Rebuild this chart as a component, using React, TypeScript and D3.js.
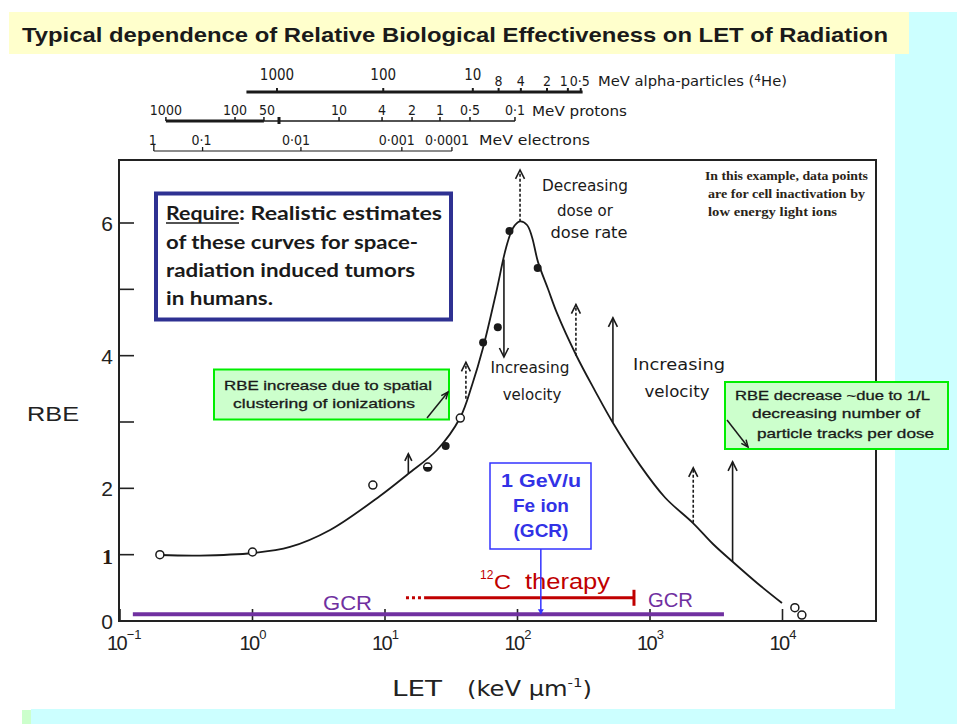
import React from "react";
import * as d3 from "d3";

// ---- data ----
const curveLET = [0.2, 0.4, 1.01, 1.92, 3.85, 9.16, 14.9, 24.7, 36.8, 45.4, 54.9, 68.9, 81.9, 92.5, 104.5, 118, 128.6, 142.9, 170, 198.7, 276.7, 384.8, 526, 841, 1298, 2112, 2988, 4226, 6425, 9910];
const curveRBE = [0.995, 0.987, 1.025, 1.116, 1.372, 1.885, 2.216, 2.578, 3.06, 3.558, 4.116, 4.945, 5.623, 5.925, 6.023, 5.97, 5.79, 5.41, 5.005, 4.64, 4.01, 3.47, 2.985, 2.35, 1.862, 1.477, 1.161, 0.889, 0.573, 0.271];

const openLET = [0.2, 1.0, 8.1, 37, 12400, 14000];
const openRBE = [1.0, 1.04, 2.05, 3.06, 0.2, 0.09];
const filledLET = [28.7, 55, 71, 87, 142];
const filledRBE = [2.64, 4.2, 4.43, 5.88, 5.32];
const halfLET = [21];
const halfRBE = [2.32];

// arrows: LET position, start RBE, tip RBE, dashed
const arrowLET = [104.5, 79, 40.8, 15, 276, 525, 2120, 4200];
const arrowFrom = [6.02, 5.45, 3.35, 2.23, 4.0, 2.99, 1.48, 0.89];
const arrowTo = [6.8, 3.98, 3.9, 2.52, 4.77, 4.57, 2.31, 2.4];
const arrowDashed = [true, false, true, false, true, false, true, false];

const xTickValues = [0.1, 1, 10, 100, 1000, 10000];
const xTickExp = ["\u22121", "0", "1", "2", "3", "4"];
const yTickValues = [1, 2, 3, 4, 5, 6];
const yLabelValues = [0, 2, 4, 6];

// energy scales (label, LET equivalent in keV/um)
const alphaLabels = ["1000", "100", "10", "8", "4", "2", "1", "0\u00b75"];
const alphaLET = [1.53, 9.7, 46, 72, 106, 167, 240, 300];
const alphaBig = [true, true, true, false, false, false, false, false];
const alphaRange = [0.9, 310];
const protonLabels = ["1000", "100", "50", "", "10", "4", "2", "1", "0\u00b75", "0\u00b71"];
const protonLET = [0.222, 0.738, 1.22, 1.585, 4.5, 9.5, 16, 26, 43.8, 95.7];
const protonThickEnd = 1.22;
const electronLabels = ["1", "0\u00b71", "0\u00b701", "0\u00b7001", "0\u00b70001"];
const electronLET = [0.18, 0.42, 2.32, 13.4, 32];

const gcrRange = [0.125, 3615];
const carbonRange = [20, 757];
const carbonDotted = 14.4;
const feLET = 150;

export default function App() {
  const x = d3.scaleLog().domain([0.1, 10000]).range([120, 782.5]);
  const y = d3.scaleLinear().domain([0, 6]).range([621, 223]);
  const L = 119, R = 876, T = 160, B = 621;

  const pts = curveLET.map((v, i) => [v, curveRBE[i]] as [number, number]);
  const line = d3
    .line<[number, number]>()
    .x((d) => x(d[0]))
    .y((d) => y(d[1]))
    .curve(d3.curveCatmullRom.alpha(0.5));

  const plotFont = "'DejaVu Sans', 'Noto Sans', sans-serif";
  const scaleFont = "'DejaVu Sans Condensed', 'Liberation Sans Narrow', 'DejaVu Sans', sans-serif";
  const arial = "'Liberation Sans', Arial, sans-serif";

  const arrowHead = (x0: number, y0: number, x1: number, y1: number, size = 8, half = 4) => {
    const a = Math.atan2(y1 - y0, x1 - x0);
    const bx = x1 - size * Math.cos(a);
    const by = y1 - size * Math.sin(a);
    const px = -Math.sin(a) * half;
    const py = Math.cos(a) * half;
    return `M${bx + px},${by + py}L${x1},${y1}L${bx - px},${by - py}`;
  };

  const alphaY = 92, protonY = 121, electronY = 151;

  const gcrY = y(0.1);
  const cY = y(0.35);

  return (
    <svg
      width={957}
      height={724}
      style={{ position: "absolute", left: 0, top: 0, display: "block" }}
    >
      <rect x={0} y={0} width={957} height={724} fill="#ffffff" />
      <rect x={895} y={12} width={62} height={712} fill="#ccffff" />
      <rect x={31} y={709} width={926} height={15} fill="#ccffff" />
      <rect x={22} y={710} width={9} height={14} fill="#ccffcc" />

      {/* title */}
      <rect x={9} y={12} width={900} height={42} fill="#ffffcc" />
      <text x={22} y={42} fontFamily={arial} fontWeight="bold" fontSize={21} fill="#1a1a1a" textLength={866} lengthAdjust="spacingAndGlyphs">
        Typical dependence of Relative Biological  Effectiveness on LET of Radiation
      </text>

      {/* energy scales */}
      <g stroke="#1a1a1a" fill="none">
        <line x1={x(alphaRange[0])} x2={x(alphaRange[1])} y1={alphaY} y2={alphaY} strokeWidth={3} />
        {alphaLET.map((v, i) => (
          <line key={i} x1={x(v)} x2={x(v)} y1={alphaY - 4} y2={alphaY} strokeWidth={2} />
        ))}
        <line x1={x(protonLET[0])} x2={x(protonThickEnd)} y1={protonY} y2={protonY} strokeWidth={3} />
        <line x1={x(protonThickEnd)} x2={x(protonLET[protonLET.length - 1])} y1={protonY} y2={protonY} strokeWidth={1.3} />
        {protonLET.map((v, i) => (
          <line key={i} x1={x(v)} x2={x(v)} y1={protonY - 4} y2={protonY + (i === 3 ? 3 : 0)} strokeWidth={i === 3 ? 3 : 1.5} />
        ))}
        <line x1={x(electronLET[0])} x2={x(electronLET[electronLET.length - 1])} y1={electronY} y2={electronY} strokeWidth={1.2} />
        {electronLET.map((v, i) => (
          <line key={i} x1={x(v)} x2={x(v)} y1={electronY - (i === 0 ? 7 : 4)} y2={electronY} strokeWidth={1.3} />
        ))}
      </g>
      <g fontFamily={scaleFont} fontSize={14} fill="#1a1a1a" textAnchor="middle">
        {alphaLabels.map((s, i) => (
          <text key={i} x={x(alphaLET[i]) + (i === 7 ? -1 : 0) - (i === 6 ? 4 : 0)} y={alphaBig[i] ? 80 : 86} fontSize={alphaBig[i] ? 15 : 14}>
            {s}
          </text>
        ))}
        {protonLabels.map((s, i) => (
          <text key={i} x={x(protonLET[i]) + (i === 2 ? 3 : 0)} y={115}>
            {s}
          </text>
        ))}
        {electronLabels.map((s, i) => (
          <text key={i} x={x(electronLET[i]) - (i >= 2 ? 5 : 1)} y={145}>
            {s}
          </text>
        ))}
      </g>
      <g fontFamily={scaleFont} fontSize={14} fill="#1a1a1a">
        <text x={598} y={86} textLength={189} lengthAdjust="spacingAndGlyphs">
          MeV alpha-particles (<tspan fontSize={10} dy={-4}>4</tspan><tspan dy={4}>He)</tspan>
        </text>
        <text x={532} y={116} textLength={95} lengthAdjust="spacingAndGlyphs">MeV protons</text>
        <text x={479} y={145} textLength={111} lengthAdjust="spacingAndGlyphs">MeV electrons</text>
      </g>

      {/* frame */}
      <path d={`M${L},${T}H${R}V${B}H${L}Z`} fill="none" stroke="#222" strokeWidth={2} />
      {yTickValues.map((v) => (
        <line key={v} x1={L} x2={L + 15} y1={y(v)} y2={y(v)} stroke="#222" strokeWidth={1.6} />
      ))}
      {xTickValues.map((v) => (
        <line key={v} x1={x(v)} x2={x(v)} y1={B} y2={B - 12} stroke="#222" strokeWidth={1.6} />
      ))}

      {/* y labels */}
      <g fontFamily={arial} fontSize={21} fill="#222" textAnchor="end">
        {yLabelValues.map((v) => (
          <text key={v} x={113} y={y(v) + 8}>
            {v}
          </text>
        ))}
        <text x={113} y={y(1) + 9} fontFamily="'Liberation Serif', serif" fontWeight="bold" fontSize={22} fill="#2a1a10">
          1
        </text>
      </g>
      <text x={27} y={421} fontFamily={arial} fontSize={21} fill="#222" textLength={52} lengthAdjust="spacingAndGlyphs">
        RBE
      </text>

      {/* x labels */}
      <g fontFamily={arial} fontSize={20} fill="#222">
        {xTickValues.map((v, i) => (
          <text key={v} x={x(v) - 13} y={650} letterSpacing={-1.5}>
            <tspan>10</tspan>
            <tspan dy={-11} fontSize={13} dx={0.5} letterSpacing={0}>{xTickExp[i]}</tspan>
          </text>
        ))}
      </g>
      <g fontFamily={plotFont} fontSize={21} fill="#222">
        <text x={392} y={696} textLength={50} lengthAdjust="spacingAndGlyphs">LET</text>
        <text x={467} y={696} textLength={125} lengthAdjust="spacingAndGlyphs">
          (keV  μm<tspan dy={-9} fontSize={13}>-1</tspan><tspan dy={9}>)</tspan>
        </text>
      </g>

      {/* GCR / carbon bars */}
      <line x1={x(gcrRange[0])} x2={x(gcrRange[1])} y1={gcrY} y2={gcrY} stroke="#7030a0" strokeWidth={4} />
      <line x1={x(carbonDotted)} x2={x(carbonRange[0])} y1={cY} y2={cY} stroke="#c00000" strokeWidth={3} strokeDasharray="3,3" />
      <line x1={x(carbonRange[0])} x2={x(carbonRange[1])} y1={cY} y2={cY} stroke="#c00000" strokeWidth={3} />
      <line x1={x(carbonRange[1])} x2={x(carbonRange[1])} y1={cY - 8} y2={cY + 8} stroke="#c00000" strokeWidth={3} />
      <g fontFamily={arial} fontSize={21} fill="#7030a0">
        <text x={323} y={610} textLength={49} lengthAdjust="spacingAndGlyphs">GCR</text>
        <text x={648} y={607} textLength={45} lengthAdjust="spacingAndGlyphs">GCR</text>
      </g>
      <g fontFamily={arial} fill="#c00000">
        <text x={480} y={579} fontSize={12}>12</text>
        <text x={494} y={589} fontSize={21} textLength={17} lengthAdjust="spacingAndGlyphs">C</text>
        <text x={525} y={589} fontSize={22} textLength={85} lengthAdjust="spacingAndGlyphs">therapy</text>
      </g>

      {/* Fe box */}
      <rect x={490} y={463} width={101} height={86} fill="#fff" stroke="#3333ff" strokeWidth={1.5} />
      <line x1={x(feLET)} x2={x(feLET)} y1={549} y2={gcrY} stroke="#3333ff" strokeWidth={1.5} />
      <path d={`M${x(feLET) - 3},${gcrY - 5}L${x(feLET)},${gcrY}L${x(feLET) + 3},${gcrY - 5}Z`} fill="#3333ff" />
      <g fontFamily={arial} fontWeight="bold" fontSize={19} fill="#3232e6" textAnchor="middle">
        <text x={541} y={487} textLength={80} lengthAdjust="spacingAndGlyphs">1 GeV/u</text>
        <text x={541} y={512}>Fe ion</text>
        <text x={541} y={537}>(GCR)</text>
      </g>

      {/* curve */}
      <path d={line(pts) || ""} fill="none" stroke="#1a1a1a" strokeWidth={1.8} />

      {/* arrows */}
      {arrowLET.map((v, i) => {
        const ax = x(v);
        const y0 = y(arrowFrom[i]);
        const y1 = y(arrowTo[i]);
        const small = i === 3;
        return (
          <g key={i} stroke="#1a1a1a" fill="none" strokeWidth={1.6}>
            <line x1={ax} x2={ax} y1={y0} y2={y1} strokeDasharray={arrowDashed[i] ? "3,2" : undefined} />
            <path d={arrowHead(ax, y0, ax, y1, small ? 7 : 9, small ? 3.5 : 4.5)} />
          </g>
        );
      })}

      {/* data points */}
      {openLET.map((v, i) => (
        <circle key={"o" + i} cx={x(v)} cy={y(openRBE[i])} r={4} fill="#fff" stroke="#1a1a1a" strokeWidth={1.5} />
      ))}
      {filledLET.map((v, i) => (
        <circle key={"f" + i} cx={x(v)} cy={y(filledRBE[i])} r={4} fill="#1a1a1a" />
      ))}
      {halfLET.map((v, i) => {
        const cx = x(v), cy = y(halfRBE[i]);
        return (
          <g key={"h" + i}>
            <circle cx={cx} cy={cy} r={4} fill="#fff" stroke="#1a1a1a" strokeWidth={1.5} />
            <path d={`M${cx - 4},${cy}A4,4 0 0 0 ${cx + 4},${cy}Z`} fill="#1a1a1a" />
          </g>
        );
      })}

      {/* annotations */}
      <g fontFamily={plotFont} fontSize={15} fill="#1a1a1a" textAnchor="middle">
        <text x={585} y={191} textLength={86} lengthAdjust="spacingAndGlyphs">Decreasing</text>
        <text x={585} y={216}>dose  or</text>
        <text x={589} y={238} textLength={77} lengthAdjust="spacingAndGlyphs">dose rate</text>
        <text x={530} y={373} textLength={79} lengthAdjust="spacingAndGlyphs">Increasing</text>
        <text x={532} y={400}>velocity</text>
        <text x={679} y={370} textLength={92} lengthAdjust="spacingAndGlyphs">Increasing</text>
        <text x={677} y={397} textLength={65} lengthAdjust="spacingAndGlyphs">velocity</text>
      </g>
      <g fontFamily="'Liberation Serif', 'DejaVu Serif', serif" fontSize={12} fontWeight="bold" fill="#2a2418">
        <text x={705} y={180} textLength={163} lengthAdjust="spacingAndGlyphs">In this example, data points</text>
        <text x={708} y={198} textLength={157} lengthAdjust="spacingAndGlyphs">are for cell inactivation by</text>
        <text x={708} y={216} textLength={129} lengthAdjust="spacingAndGlyphs">low energy light ions</text>
      </g>

      {/* Require box */}
      <rect x={156} y={193.5} width={295} height={126} fill="#fff" stroke="#2e3192" strokeWidth={4} />
      <g fontFamily="Lato, 'Open Sans', sans-serif" fontWeight="bold" fontSize={19} fill="#1a1a1a">
        <text x={166} y={220} textLength={73} lengthAdjust="spacingAndGlyphs">Require</text>
        <line x1={166} x2={239} y1={223} y2={223} stroke="#1a1a1a" strokeWidth={1.3} />
        <text x={239} y={220} textLength={203} lengthAdjust="spacingAndGlyphs">: Realistic estimates</text>
        <text x={166} y={249} textLength={252} lengthAdjust="spacingAndGlyphs">of these curves for space-</text>
        <text x={166} y={277} textLength={249} lengthAdjust="spacingAndGlyphs">radiation  induced  tumors</text>
        <text x={166} y={305} textLength={107} lengthAdjust="spacingAndGlyphs">in humans.</text>
      </g>

      {/* green box 1 */}
      <rect x={214} y={369.5} width={235} height={50} fill="#ccffcc" stroke="#00ee00" strokeWidth={2} />
      <g fontFamily={arial} fontSize={13} fill="#1a1a1a" stroke="#1a1a1a" strokeWidth={0.3}>
        <text x={224} y={390} textLength={208} lengthAdjust="spacingAndGlyphs">RBE increase  due to spatial</text>
        <text x={233} y={408} textLength={182} lengthAdjust="spacingAndGlyphs">clustering of ionizations</text>
      </g>
      <g stroke="#1a1a1a" fill="none" strokeWidth={1.5}>
        <line x1={427} y1={418} x2={448} y2={392} />
        <path d={arrowHead(427, 418, 448, 392, 7, 3)} />
      </g>

      {/* green box 2 */}
      <rect x={725} y={382} width={223} height={67} fill="#ccffcc" stroke="#00ee00" strokeWidth={2} />
      <g fontFamily={arial} fontSize={13} fill="#1a1a1a" stroke="#1a1a1a" strokeWidth={0.3}>
        <text x={735} y={400} textLength={195} lengthAdjust="spacingAndGlyphs">RBE decrease  ~due to 1/L</text>
        <text x={752} y={418} textLength={168} lengthAdjust="spacingAndGlyphs">decreasing  number of</text>
        <text x={757} y={438} textLength={177} lengthAdjust="spacingAndGlyphs">particle  tracks  per dose</text>
      </g>
      <g stroke="#1a1a1a" fill="none" strokeWidth={1.5}>
        <line x1={727} y1={420} x2={748} y2={447} />
        <path d={arrowHead(727, 420, 748, 447, 7, 3)} />
      </g>
    </svg>
  );
}
